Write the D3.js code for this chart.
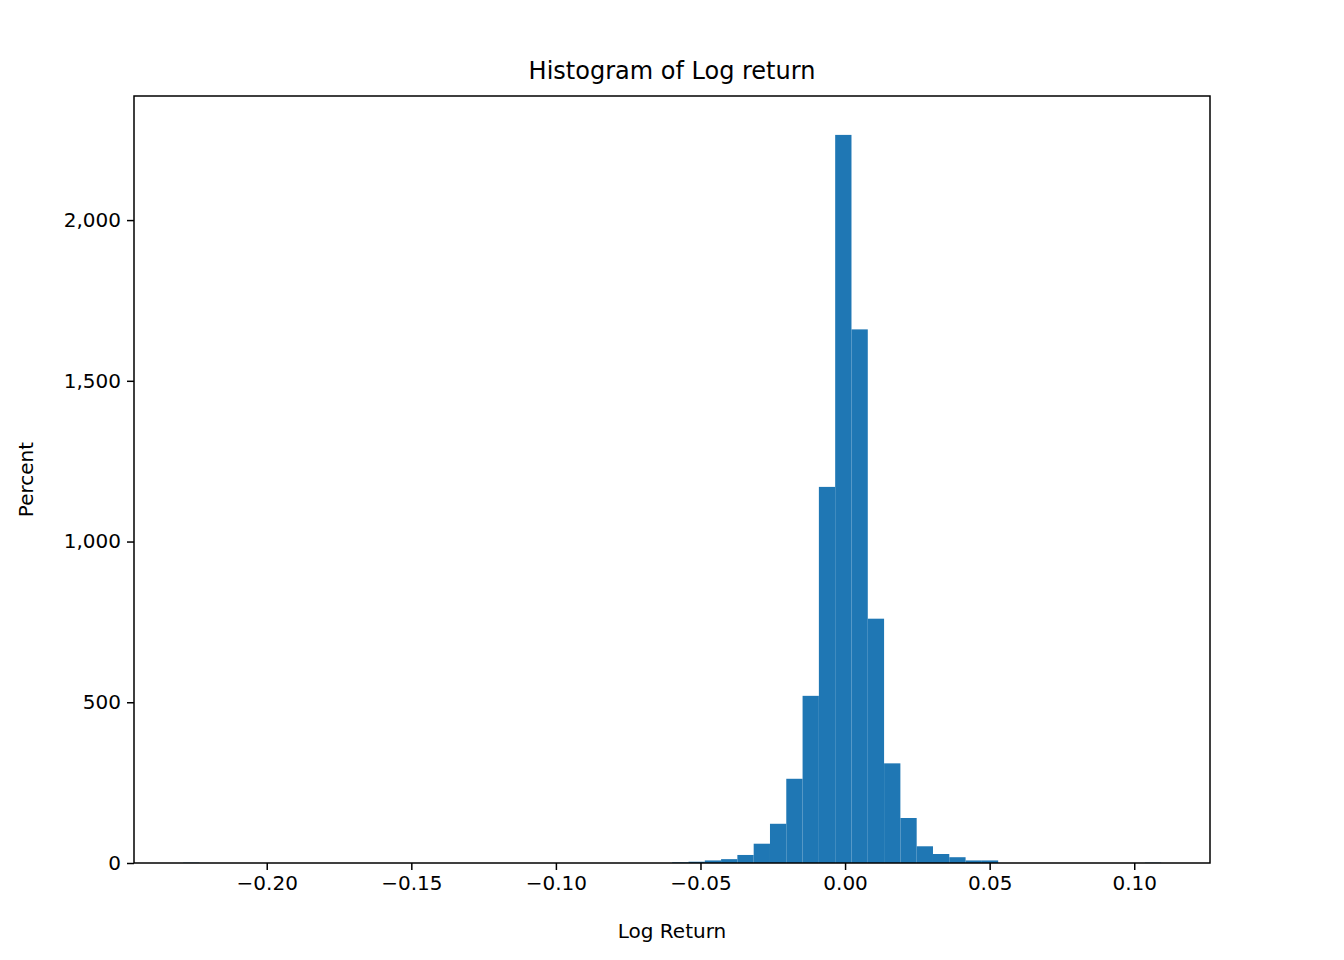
<!DOCTYPE html>
<html><head><meta charset="utf-8">
<script src="https://cdn.jsdelivr.net/npm/d3@7"></script>
<style>body{margin:0;background:#fff}svg{font-family:"DejaVu Sans",sans-serif}</style>
</head><body><div id="chart"></div>
<script>
// histogram bins (60 bins from data min to data max)
const binStart = -0.2289;
const binWidth = 0.005637;
const counts = [1,0,0,0,0,0,0,0,0,0, 0,0,0,0,0,0,0,0,0,0, 0,0,0,0,0,0,0,0,0,0,
  2,4,8,12,25,60,122,262,520,1170, 2265,1660,760,310,140,52,28,18,8,8,
  0,0,0,0,0,0,0,0,0,1];
const xTicks = [-0.20,-0.15,-0.10,-0.05,0.00,0.05,0.10];
const yTicks = [0,500,1000,1500,2000];

const W = 1344, H = 960;
const margin = {top: 96, right: 134, bottom: 97, left: 134};
const width = W - margin.left - margin.right, height = H - margin.top - margin.bottom;

const bins = counts.map((c, i) => ({x0: binStart + i*binWidth, x1: binStart + (i+1)*binWidth, n: c}));

const svg = d3.select("#chart").append("svg").attr("width", W).attr("height", H);
const g = svg.append("g").attr("transform", `translate(${margin.left},${margin.top})`);

const x = d3.scaleLinear().domain([-0.2459, 0.1262]).range([0, width]);
const y = d3.scaleLinear().domain([0, 2386]).range([height, 0]);

g.selectAll("rect.bar").data(bins).join("rect")
  .attr("class","bar")
  .attr("x", d => x(d.x0)).attr("width", d => x(d.x1) - x(d.x0))
  .attr("y", d => y(d.n)).attr("height", d => y(0) - y(d.n))
  .attr("fill", "#1f77b4");

const fmt = d => (d < 0 ? "\u2212" : "") + Math.abs(d).toFixed(2);
const xa = g.append("g").attr("transform", `translate(0,${height})`)
  .call(d3.axisBottom(x).tickValues(xTicks).tickFormat(fmt).tickSize(7).tickPadding(6));
const ya = g.append("g")
  .call(d3.axisLeft(y).tickValues(yTicks).tickSize(7).tickPadding(6));
[xa, ya].forEach(a => {
  a.select(".domain").remove();
  a.selectAll("text").attr("font-size", 20).attr("fill","#000").attr("font-family","DejaVu Sans");
  a.selectAll("line").attr("stroke","#000").attr("stroke-width",1.5);
});

g.append("rect").attr("width", width).attr("height", height)
  .attr("fill","none").attr("stroke","#000").attr("stroke-width",1.5);

svg.append("text").attr("x", margin.left + width/2).attr("y", 79)
  .attr("text-anchor","middle").attr("font-size", 24).text("Histogram of Log return");
svg.append("text").attr("x", margin.left + width/2).attr("y", 938)
  .attr("text-anchor","middle").attr("font-size", 20).text("Log Return");
svg.append("text").attr("transform", `translate(33,${margin.top + height/2}) rotate(-90)`)
  .attr("text-anchor","middle").attr("font-size", 20).text("Percent");
</script></body></html>
